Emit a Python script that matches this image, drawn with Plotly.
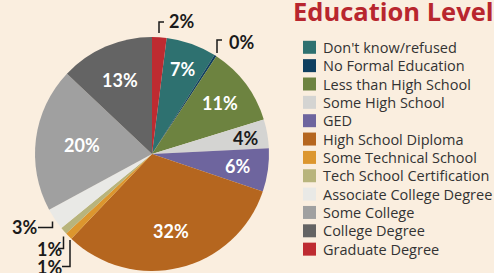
import math
import plotly.graph_objects as go

categories = ["Don't know/refused", "No Formal Education", "Less than High School",
              "Some High School", "GED", "High School Diploma", "Some Technical School",
              "Tech School Certification", "Associate College Degree", "Some College",
              "College Degree", "Graduate Degree"]
values = [7, 0.3, 11, 4, 6, 32, 1, 1, 3, 20, 13, 2]
labels_pct = ["7%", "0%", "11%", "4%", "6%", "32%", "1%", "1%", "3%", "20%", "13%", "2%"]
colors = ["#2E7170", "#0F3F5F", "#6D8340", "#D4D4D2", "#6E659E", "#B5661F",
          "#DC962E", "#B8B47C", "#E9E9E6", "#A0A0A0", "#646464", "#BE2B31"]

# label styling (not data): None = shown outside with a bracket
inside_radius = [0.77, None, 0.73, 0.815, 0.74, 0.68, None, None, None, 0.60, 0.69, None]
inside_color = ["white", None, "white", "#1a1a1a", "white", "white",
                None, None, None, "white", "white", None]

W, H = 494, 273
BG = "#FAEEDF"
NUMFONT = "Lato"
TXTFONT = "Open Sans"
DARK = "#1a1a1a"

total = sum(values)
rotation = values[-1] / total * 360  # last slice (Graduate) begins at 12 o'clock

cx, cy, r = 152, 154, 117

def px(x):
    return x / W

def py(y):
    return 1 - y / H

fig = go.Figure(go.Pie(
    labels=categories,
    values=values,
    textinfo="none",
    marker=dict(colors=colors, line=dict(width=0)),
    sort=False,
    direction="clockwise",
    rotation=rotation,
    hole=0,
    domain=dict(x=[px(cx - r), px(cx + r)], y=[py(cy + r), py(cy - r)]),
    showlegend=False,
    hoverinfo="label+percent",
))

annotations = [
    dict(text="Education Level", x=px(291), y=py(11.5), xanchor="left", yanchor="middle",
         showarrow=False, font=dict(family=TXTFONT, size=25.5, color="#B8262E", weight="bold")),
]

# inside labels at each slice's mid-angle
cum = 0.0
for v, t, rf, col in zip(values, labels_pct, inside_radius, inside_color):
    mid = rotation + (cum + v / 2) / total * 360
    cum += v
    if rf is None:
        continue
    a = math.radians(mid)
    x = cx + rf * r * math.sin(a)
    y = cy - rf * r * math.cos(a)
    annotations.append(dict(text=t, x=px(x), y=py(y), xanchor="center", yanchor="middle",
                            showarrow=False,
                            font=dict(family=NUMFONT, size=18, color=col, weight="bold")))

out_labels = [
    ("2%", 167, 21),
    ("0%", 227, 41.5),
    ("3%", 10, 227),
    ("1%", 35, 249),
    ("1%", 35, 267),
]
for t, x, y in out_labels:
    annotations.append(dict(text=t, x=px(x), y=py(y), xanchor="left", yanchor="middle",
                            showarrow=False,
                            font=dict(family=NUMFONT, size=18, color=DARK, weight="bold")))

bracket_paths = [
    [(159, 33), (159, 22), (164, 22)],
    [(217, 53), (217, 40), (222, 40)],
    [(38, 227.5), (52.5, 227.5), (52.5, 221.5)],
    [(58, 248.5), (63.5, 248.5), (63.5, 236.5)],
    [(62, 266.5), (70, 266.5), (70, 240)],
]
shapes = []
for pts in bracket_paths:
    d = "M" + " L".join(f"{px(x)},{py(y)}" for x, y in pts)
    shapes.append(dict(type="path", path=d, xref="paper", yref="paper",
                       line=dict(color=DARK, width=1.5)))

# legend (drawn as swatches + labels)
leg_x0, leg_y0, leg_dy, sw = 303, 47.3, 18.35, 13
for i, (name, col) in enumerate(zip(categories, colors)):
    yc = leg_y0 + i * leg_dy
    shapes.append(dict(type="rect", xref="paper", yref="paper",
                       x0=px(leg_x0), x1=px(leg_x0 + sw),
                       y0=py(yc + sw / 2), y1=py(yc - sw / 2),
                       fillcolor=col, line=dict(width=0)))
    annotations.append(dict(text=name, x=px(leg_x0 + 18), y=py(yc), xanchor="left",
                            yanchor="middle", showarrow=False,
                            font=dict(family=TXTFONT, size=14.5, color="#333333")))

fig.update_layout(
    width=W, height=H,
    margin=dict(l=0, r=0, t=0, b=0),
    paper_bgcolor=BG, plot_bgcolor=BG,
    annotations=annotations,
    shapes=shapes,
    showlegend=False,
)

fig.write_html("out.html",
               config={"displayModeBar": False},
               post_script="document.body.style.margin='0';"
                           "document.body.style.background='" + BG + "';")
